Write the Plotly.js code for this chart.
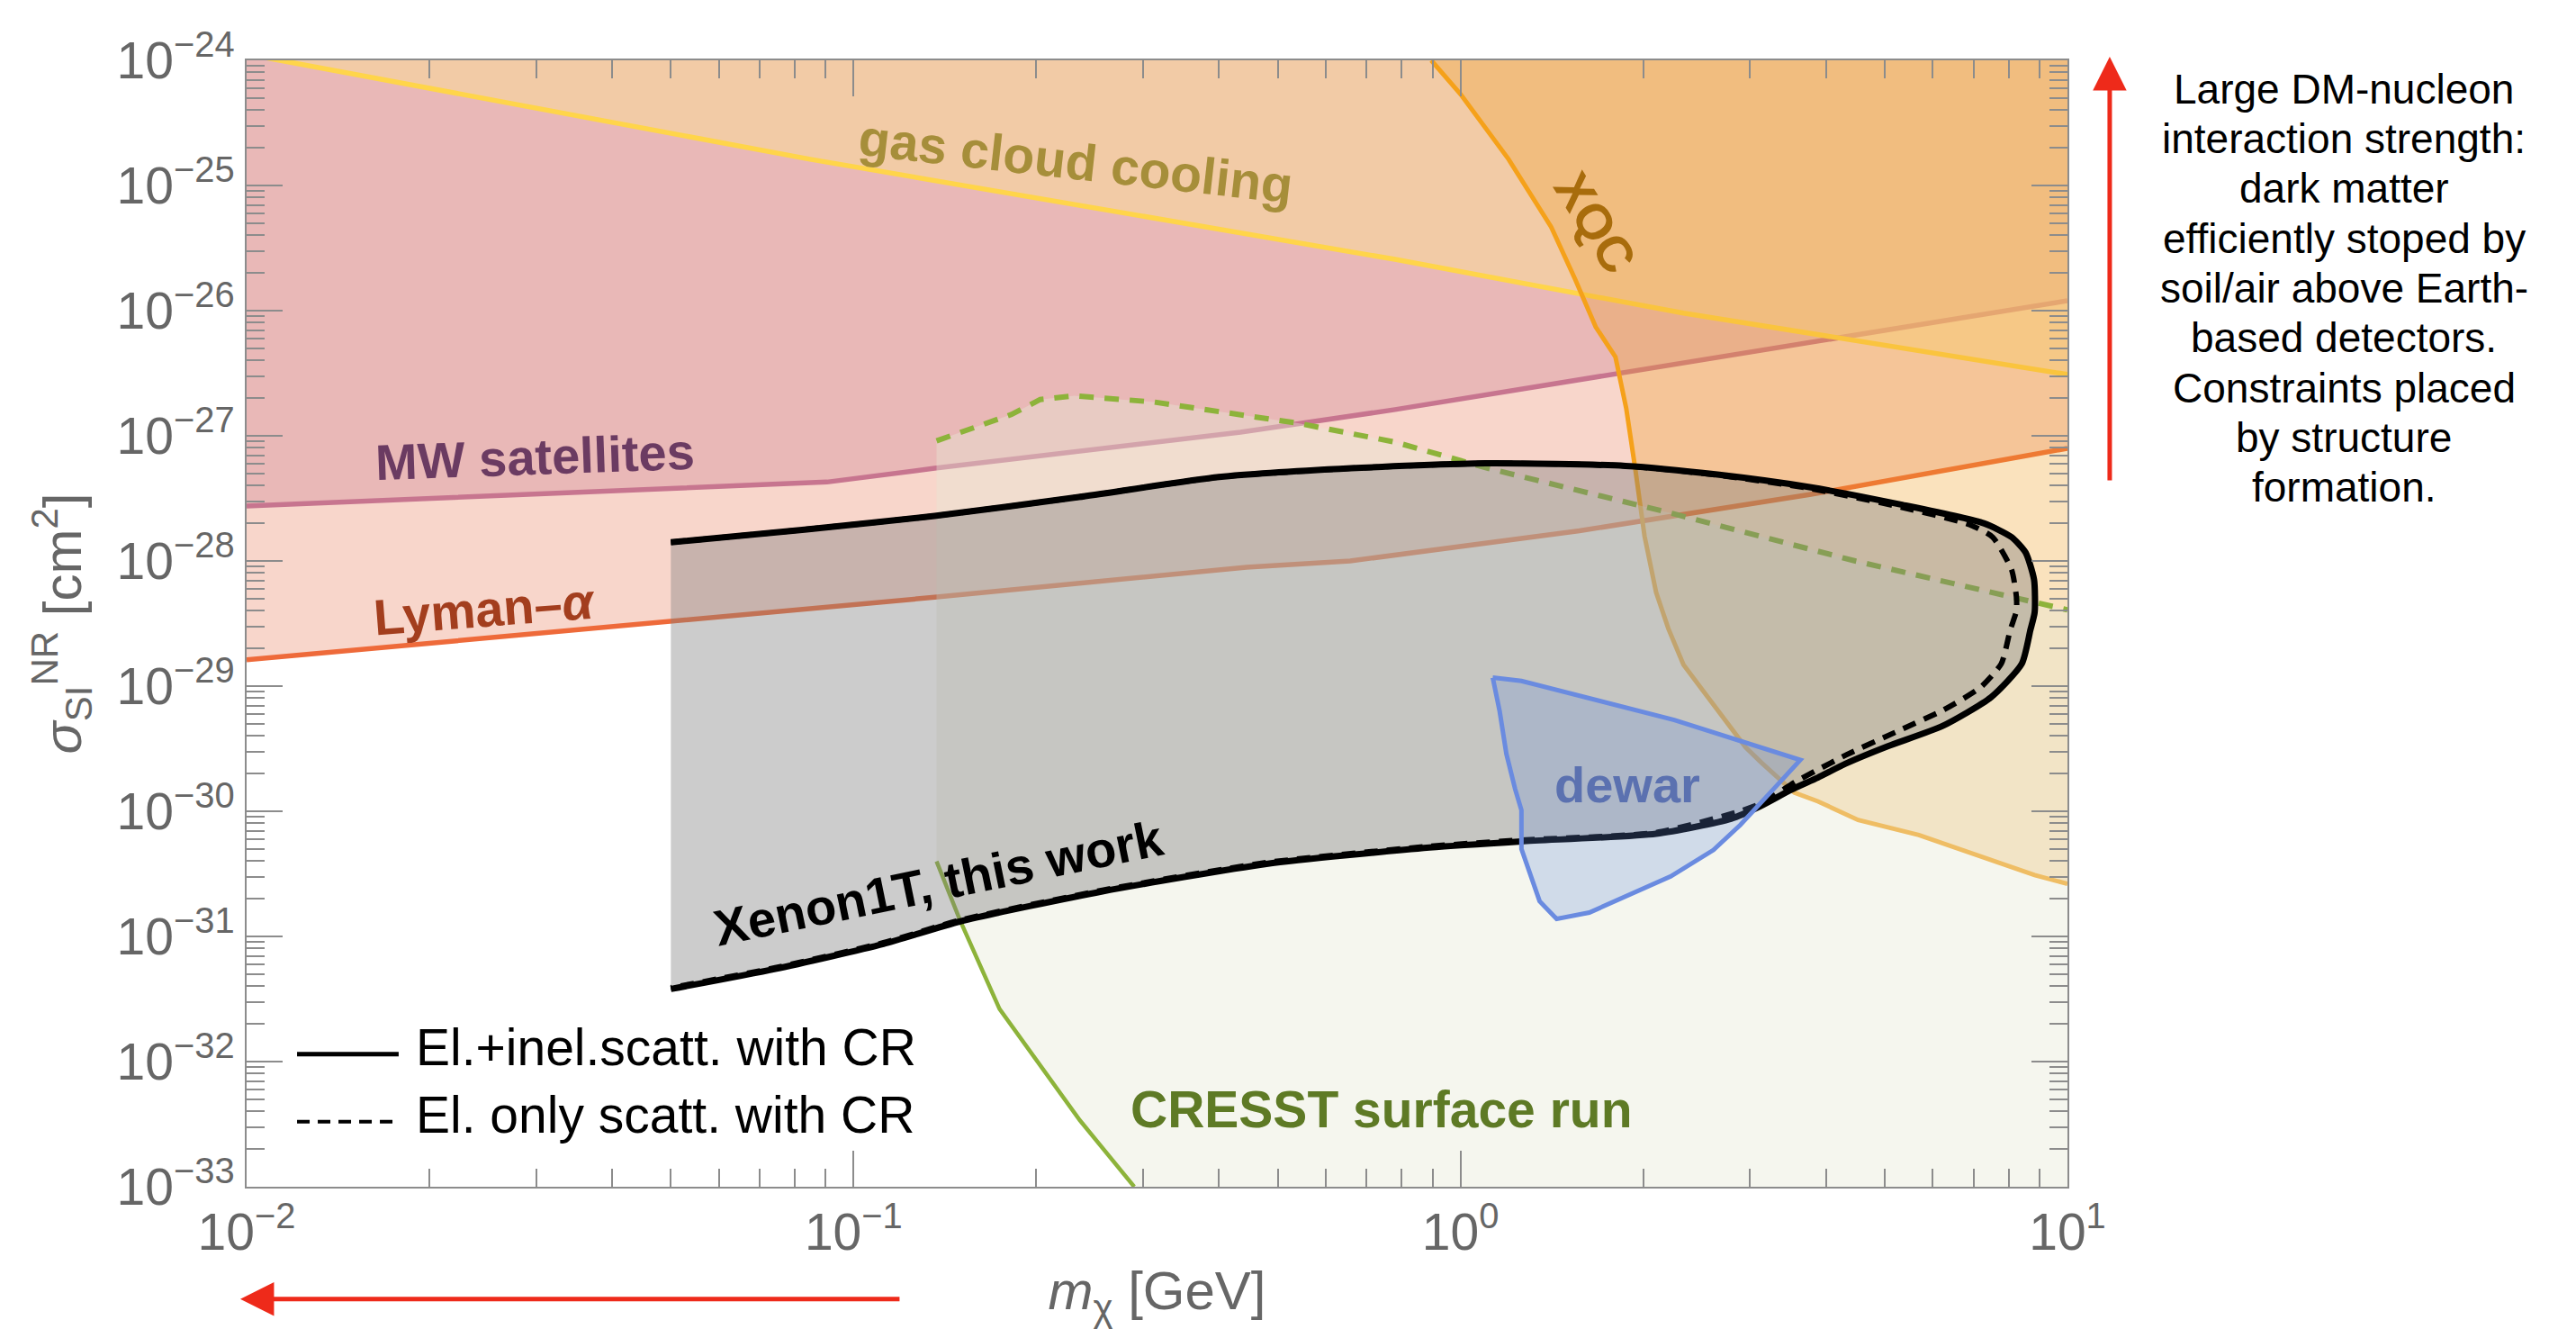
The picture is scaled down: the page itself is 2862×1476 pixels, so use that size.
<!DOCTYPE html>
<html>
<head>
<meta charset="utf-8">
<script src="https://cdn.plot.ly/plotly-3.0.1.min.js"></script>
<style>
  html, body { margin: 0; padding: 0; background: #ffffff; }
  #chart { width: 2862px; height: 1476px; }
</style>
</head>
<body>
<div id="chart"></div>
<script>
// Dark-matter mass (GeV) and spin-independent DM-nucleon cross section (cm^2)

// Xenon1T exclusion, elastic + inelastic scattering with cosmic rays (closed contour)
const xenonMass = [0.05, 0.083, 0.136, 0.235, 0.4, 0.66, 1.1, 1.87, 2.65, 3.76, 5.32, 7.28, 8.09, 8.53, 8.81, 8.83, 8.69, 8.41, 7.48, 6.22, 5.06, 4.31, 3.88, 3.50, 3.12, 2.79, 2.10, 1.26, 0.889, 0.479, 0.257, 0.15, 0.112, 0.0743, 0.05];
const xenonSigma = [1.41e-28, 1.78e-28, 2.29e-28, 3.24e-28, 4.68e-28, 5.50e-28, 6.03e-28, 5.75e-28, 4.90e-28, 3.89e-28, 2.82e-28, 2.00e-28, 1.55e-28, 1.17e-28, 7.08e-29, 3.89e-29, 2.82e-29, 1.51e-29, 8.13e-30, 4.79e-30, 3.31e-30, 2.40e-30, 1.86e-30, 1.48e-30, 1.10e-30, 8.71e-31, 6.61e-31, 5.75e-31, 5.13e-31, 3.80e-31, 2.29e-31, 1.32e-31, 8.71e-32, 5.50e-32, 3.80e-32];

// Xenon1T exclusion, elastic-only scattering with cosmic rays
const xenonElMass = [0.05, 0.083, 0.136, 0.235, 0.4, 0.66, 1.1, 1.87, 2.65, 3.76, 5.32, 6.90, 7.53, 8.09, 8.24, 8.24, 8.05, 7.78, 7.19, 6.25, 5.20, 4.32, 3.58, 3.12, 2.84, 2.10, 1.26, 0.889, 0.479, 0.257, 0.15, 0.112, 0.0743, 0.05];
const xenonElSigma = [1.41e-28, 1.78e-28, 2.29e-28, 3.24e-28, 4.68e-28, 5.50e-28, 6.03e-28, 5.75e-28, 4.85e-28, 3.80e-28, 2.69e-28, 1.95e-28, 1.55e-28, 8.51e-29, 5.13e-29, 4.00e-29, 2.82e-29, 1.51e-29, 9.77e-30, 6.46e-30, 4.27e-30, 2.82e-30, 1.74e-30, 1.15e-30, 9.77e-31, 6.76e-31, 5.89e-31, 5.25e-31, 3.89e-31, 2.34e-31, 1.35e-31, 8.91e-32, 5.62e-32, 3.89e-32];

// CRESST surface run: upper edge (dashed) and lower-left edge (solid)
const cresstTopMass = [0.137, 0.182, 0.203, 0.231, 0.313, 0.540, 0.780, 1.11, 2.23, 4.47, 10];
const cresstTopSigma = [9.12e-28, 1.48e-27, 1.95e-27, 2.09e-27, 1.86e-27, 1.26e-27, 8.91e-28, 5.50e-28, 2.40e-28, 1.00e-28, 4.07e-29];
const cresstLowMass = [0.137, 0.1435, 0.15, 0.174, 0.194, 0.236, 0.29];
const cresstLowSigma = [3.98e-31, 2.24e-31, 1.32e-31, 2.63e-32, 1.26e-32, 3.39e-33, 1.0e-33];

// XQC rocket limit
const xqcMass = [0.895, 1.0, 1.20, 1.41, 1.545, 1.67, 1.80, 1.875, 1.94, 2.01, 2.10, 2.20, 2.33, 2.95, 3.13, 3.55, 3.88, 4.52, 5.69, 8.83, 10];
const xqcSigma = [1e-24, 5.37e-25, 1.62e-25, 4.68e-26, 1.78e-26, 7.41e-27, 4.27e-27, 1.66e-27, 5.50e-28, 1.58e-28, 5.62e-29, 2.88e-29, 1.48e-29, 3.24e-30, 2.45e-30, 1.41e-30, 1.20e-30, 8.51e-31, 6.46e-31, 3.09e-31, 2.63e-31];

// Gas cloud cooling
const gasMass = [0.01, 0.0848, 0.78, 1.83, 2.33, 10];
const gasSigma = [1.12e-24, 1.62e-25, 2.57e-26, 1.20e-26, 9.55e-27, 3.09e-27];

// Milky Way satellites
const mwMass = [0.01, 0.0904, 0.136, 0.434, 0.78, 2.33, 10];
const mwSigma = [2.75e-28, 4.27e-28, 5.50e-28, 1.07e-27, 1.62e-27, 3.80e-27, 1.20e-26];

// Lyman-alpha forest
const lymanMass = [0.01, 0.0847, 0.136, 0.444, 0.658, 1.57, 3.76, 10];
const lymanSigma = [1.62e-29, 4.17e-29, 5.13e-29, 8.91e-29, 1.0e-28, 1.74e-28, 3.39e-28, 7.94e-28];

// Dewar experiment (closed contour)
const dewarMass = [1.13, 1.26, 2.25, 3.63, 3.31, 2.89, 2.61, 2.22, 1.63, 1.44, 1.35, 1.30, 1.26, 1.26, 1.23, 1.19, 1.16, 1.13];
const dewarSigma = [1.17e-29, 1.10e-29, 5.37e-30, 2.57e-30, 1.58e-30, 7.76e-31, 4.90e-31, 3.02e-31, 1.55e-31, 1.38e-31, 1.91e-31, 3.16e-31, 5.01e-31, 1.02e-30, 1.51e-30, 2.88e-30, 6.31e-30, 1.17e-29];

// Axis decades
const massExponents = [-2, -1, 0, 1];
const sigmaExponents = [-33, -32, -31, -30, -29, -28, -27, -26, -25, -24];

const MASS_MIN = 0.01, MASS_MAX = 10, SIGMA_MIN = 1e-33, SIGMA_MAX = 1e-24;
const FONT = '"Liberation Sans", Arial, Helvetica, sans-serif';
const GREY = '#8c8c8c';

function powerLabel(e) {
  return '10<sup>' + (e < 0 ? '\u2212' + (-e) : String(e)) + '</sup>';
}
function minorTicks(lo, hi) {
  const v = [];
  for (let e = lo; e < hi; e++) for (let d = 2; d <= 9; d++) v.push(d * Math.pow(10, e));
  return v;
}
// region bounded below by a curve and above by the top of the frame
function regionAbove(mass, sigma) {
  return { x: mass.concat([MASS_MAX, MASS_MIN]), y: sigma.concat([SIGMA_MAX, SIGMA_MAX]) };
}
function fillTrace(x, y, color, shape) {
  return { type: 'scatter', mode: 'lines', x: x, y: y, fill: 'toself', fillcolor: color,
           line: { width: 0, shape: shape || 'linear', smoothing: 0.6 }, hoverinfo: 'skip', showlegend: false };
}
function lineTrace(x, y, color, width, dash, shape) {
  return { type: 'scatter', mode: 'lines', x: x, y: y,
           line: { color: color, width: width, dash: dash || 'solid', shape: shape || 'linear', smoothing: 0.6 },
           hoverinfo: 'skip', showlegend: false };
}

const lymanRegion = regionAbove(lymanMass, lymanSigma);
const mwRegion = regionAbove(mwMass, mwSigma);
const gasRegion = regionAbove(gasMass, gasSigma);
const xqcRegion = { x: xqcMass.concat([MASS_MAX]), y: xqcSigma.concat([SIGMA_MAX]) };
const cresstRegion = {
  x: cresstTopMass.concat([MASS_MAX], cresstLowMass.slice().reverse()),
  y: cresstTopSigma.concat([SIGMA_MIN], cresstLowSigma.slice().reverse())
};

const traces = [
  fillTrace(lymanRegion.x, lymanRegion.y, 'rgba(232,118,82,0.30)'),
  lineTrace(lymanMass, lymanSigma, '#ee6a3a', 5.5),
  fillTrace(mwRegion.x, mwRegion.y, 'rgba(198,117,140,0.30)'),
  lineTrace(mwMass, mwSigma, '#c7758f', 5.5),
  fillTrace(gasRegion.x, gasRegion.y, 'rgba(251,221,150,0.50)'),
  lineTrace(gasMass, gasSigma, '#ffd54a', 5.5),
  fillTrace(xqcRegion.x, xqcRegion.y, 'rgba(238,158,38,0.30)'),
  lineTrace(xqcMass, xqcSigma, '#f5a11a', 5),
  fillTrace(cresstRegion.x, cresstRegion.y, 'rgba(230,233,212,0.40)'),
  lineTrace(cresstLowMass, cresstLowSigma, '#8db33a', 4.5),
  lineTrace(cresstTopMass, cresstTopSigma, '#8db33a', 6, '16px,12px'),
  fillTrace(xenonMass, xenonSigma, 'rgba(128,128,128,0.40)', 'spline'),
  lineTrace(xenonMass, xenonSigma, '#000000', 7, 'solid', 'spline'),
  lineTrace(xenonElMass, xenonElSigma, '#000000', 6, '15px,10px', 'spline'),
  { type: 'scatter', mode: 'lines', x: dewarMass, y: dewarSigma, fill: 'toself',
    fillcolor: 'rgba(100,140,220,0.25)', line: { color: '#6a8be0', width: 5 },
    hoverinfo: 'skip', showlegend: false }
];

const axisBase = {
  type: 'log', showline: true, linecolor: GREY, linewidth: 2, mirror: 'ticks',
  ticks: 'inside', ticklen: 40, tickwidth: 2, tickcolor: GREY,
  showgrid: false, zeroline: false, fixedrange: true,
  tickfont: { family: FONT, size: 57, color: '#666666' },
  minor: { ticks: 'inside', ticklen: 20, tickwidth: 2, tickcolor: GREY, showgrid: false }
};

const xaxis = Object.assign({}, axisBase, {
  range: [-2, 1],
  tickmode: 'array', tickvals: massExponents.map(e => Math.pow(10, e)), ticktext: massExponents.map(powerLabel),
  title: { text: '<i>m</i><sub>\u03c7</sub> [GeV]', font: { family: FONT, size: 60, color: '#666666' }, standoff: 70 }
});
xaxis.minor = Object.assign({}, axisBase.minor, { tickmode: 'array', tickvals: minorTicks(-2, 1) });

const yaxis = Object.assign({}, axisBase, {
  range: [-33, -24],
  tickmode: 'array', tickvals: sigmaExponents.map(e => Math.pow(10, e)), ticktext: sigmaExponents.map(powerLabel),
  title: { text: '<i>\u03c3</i><sub>SI</sub><sup>NR</sup> [cm<sup>2</sup>]', font: { family: FONT, size: 60, color: '#666666' }, standoff: 20 }
});
yaxis.minor = Object.assign({}, axisBase.minor, { tickmode: 'array', tickvals: minorTicks(-33, -24) });

function label(text, x, y, size, color, angle) {
  return { xref: 'paper', yref: 'paper', x: x, y: y, xanchor: 'center', yanchor: 'middle',
           text: text, showarrow: false, textangle: angle || 0,
           font: { family: FONT, size: size, color: color } };
}

const noteLines = ['Large DM-nucleon', 'interaction strength:', 'dark matter', 'efficiently stoped by',
                   'soil/air above Earth-', 'based detectors.', 'Constraints placed', 'by structure', 'formation.'];

const annotations = [
  label('<b>gas cloud cooling</b>', 0.4553, 0.9105, 57, '#a68e3a', 6.4),
  label('<b>XQC</b>', 0.7405, 0.8561, 55, '#a86c0c', 58),
  label('<b>MW satellites</b>', 0.1582, 0.6475, 56, '#6b3b62', -2),
  label('<b>Lyman\u2013<i>\u03b1</i></b>', 0.1305, 0.5124, 56, '#a33e1e', -4.4),
  label('<b>dewar</b>', 0.7583, 0.3573, 56, '#5b71b0', 0),
  label('<b>CRESST surface run</b>', 0.6231, 0.0687, 57, '#5e7a25', 0),
  label('<b>Xenon1T, this work</b>', 0.3801, 0.2694, 56, '#000000', -11.6),
  Object.assign(label('El.+inel.scatt. with CR', 0.0919, 0.1239, 57, '#000000', 0), { xanchor: 'left' }),
  Object.assign(label('El. only scatt. with CR', 0.0919, 0.0639, 57, '#000000', 0), { xanchor: 'left' }),
  // arrows: towards large cross sections and towards light dark matter
  { xref: 'paper', yref: 'paper', x: 1.0232, y: 1.0032, ax: 0, ay: 472, text: '', showarrow: true,
    arrowhead: 2, arrowsize: 1.5, arrowwidth: 5, arrowcolor: '#ee2a1a', standoff: 0 },
  { xref: 'paper', yref: 'paper', x: -0.0035, y: -0.0997, ax: 734, ay: 0, text: '', showarrow: true,
    arrowhead: 2, arrowsize: 1.5, arrowwidth: 5, arrowcolor: '#ee2a1a', standoff: 0 }
];
noteLines.forEach((t, i) => {
  annotations.push(label(t, 1.1518, (1318 - (99 + 55.25 * i)) / 1251, 46, '#000000', 0));
});

const shapes = [
  { type: 'line', xref: 'paper', yref: 'paper', x0: 0.0277, x1: 0.0835, y0: 0.1177, y1: 0.1177,
    line: { color: '#000000', width: 5 } },
  { type: 'line', xref: 'paper', yref: 'paper', x0: 0.0277, x1: 0.0825, y0: 0.0578, y1: 0.0578,
    line: { color: '#000000', width: 4, dash: '14px,9px' } }
];

const layout = {
  width: 2862, height: 1476,
  margin: { l: 274, r: 565, t: 67, b: 158, pad: 0 },
  paper_bgcolor: '#ffffff', plot_bgcolor: '#ffffff',
  font: { family: FONT, color: '#000000' },
  showlegend: false,
  xaxis: xaxis, yaxis: yaxis,
  annotations: annotations, shapes: shapes
};

Plotly.newPlot('chart', traces, layout, { displayModeBar: false });
</script>
</body>
</html>
